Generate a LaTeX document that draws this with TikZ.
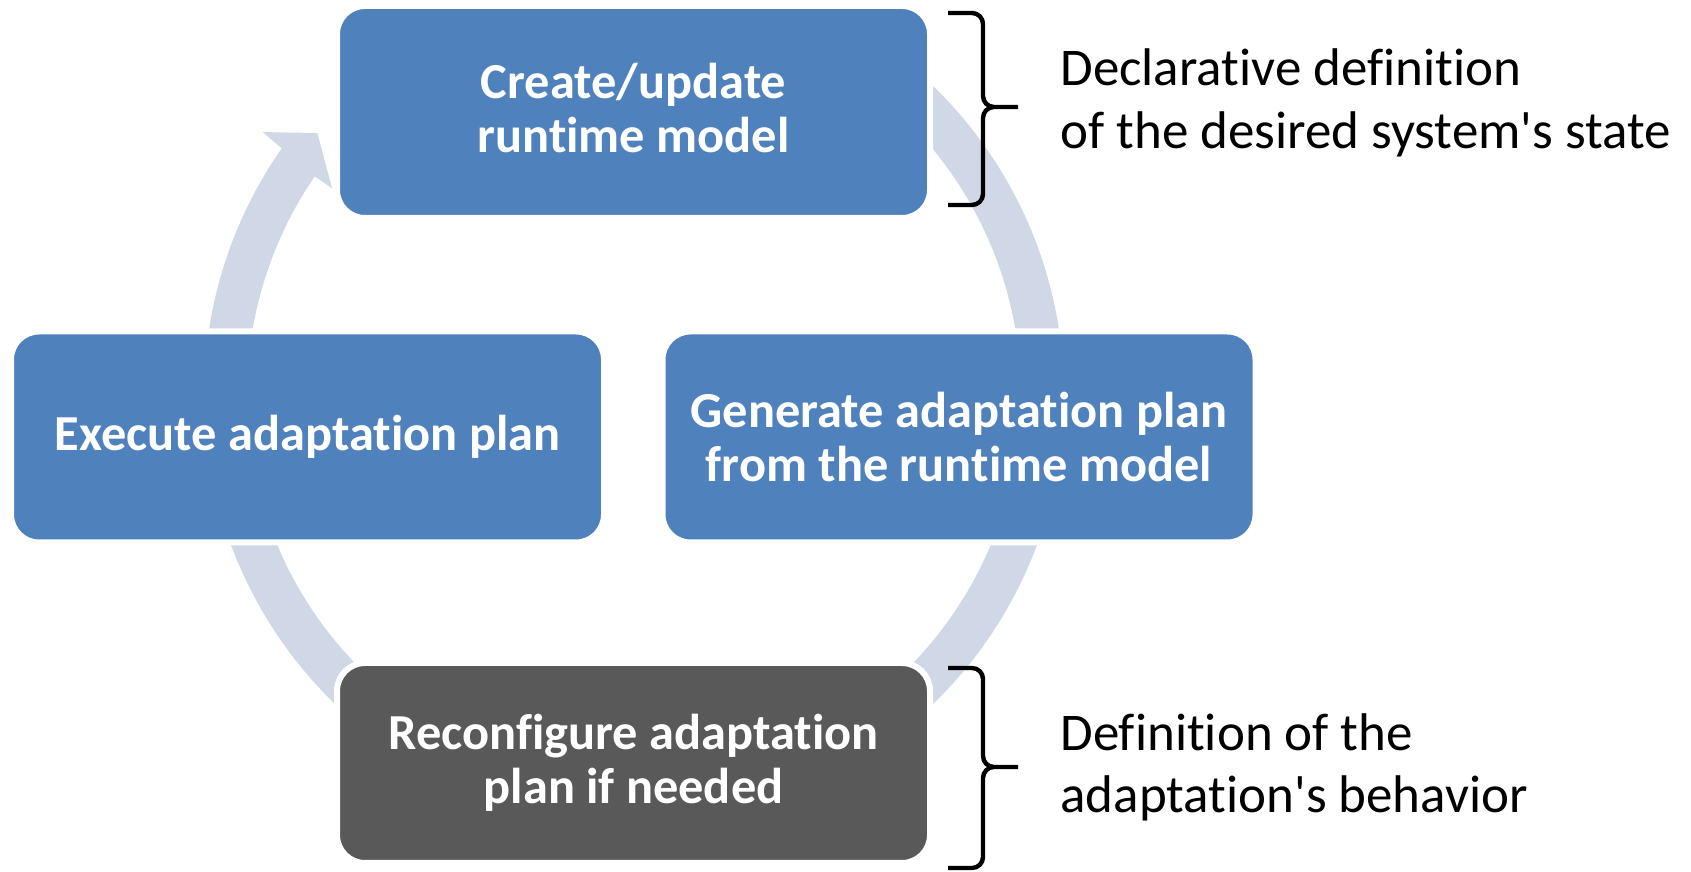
\documentclass[tikz,border=0pt]{standalone}
\usepackage{fontspec}
\setmainfont{Carlito}[Ligatures={TeXOff,NoCommon}]
\definecolor{boxblue}{HTML}{4F81BD}
\definecolor{ringc}{HTML}{D0D8E8}
\definecolor{boxgray}{HTML}{595959}
\begin{document}
\begin{tikzpicture}[x=0.5pt,y=0.5pt,
  box/.style={rectangle, rounded corners=14pt, draw=white, line width=3pt,
    fill=boxblue, text=white, font=\fontsize{25.2}{27}\selectfont\bfseries,
    align=center, minimum width=296.5pt, minimum height=105.5pt, inner sep=0pt},
  ringseg/.style={fill=ringc},
  bracepath/.style={draw=black, line width=2.2pt, line join=round, line cap=butt},
  lbl/.style={anchor=west, align=left, inner sep=0pt, text=black,
    font=\fontsize{26.5}{31.3}\selectfont}]
\fill[white] (0,0) rectangle (1691,872);
\useasboundingbox (0,0) rectangle (1691,872);
% cycle ring segments
\begin{scope}[shift={(634,477)}]
  \fill[ringseg] (60:430) arc[start angle=60,end angle=0,radius=430]
    -- (0:387) arc[start angle=0,end angle=60,radius=387] -- cycle;
  \fill[ringseg] (0:430) arc[start angle=0,end angle=-60,radius=430]
    -- (-60:387) arc[start angle=-60,end angle=0,radius=387] -- cycle;
  \fill[ringseg] (-120:430) arc[start angle=-120,end angle=-180,radius=430]
    -- (-180:387) arc[start angle=-180,end angle=-120,radius=387] -- cycle;
  \fill[ringseg] (180:430) arc[start angle=180,end angle=145,radius=430]
    -- (144.7:455) -- (140.4:411) -- (145.6:366) -- (145.6:387)
    arc[start angle=145.6,end angle=180,radius=387] -- cycle;
\end{scope}
% boxes
\node[box, minimum height=106pt] (create) at (633.5,760) {Create/update\\runtime model\rule{0pt}{0pt}\vspace*{4pt}};
\node[box] (execute) at (307.5,435) {Execute adaptation plan};
\node[box] (generate) at (959,435) {Generate adaptation plan\\from the runtime model};
\node[box, fill=boxgray, minimum height=100pt] (reconf) at (633.5,109) {Reconfigure adaptation\\plan if needed};
% braces
\draw[bracepath] (948,859) -- (972,859) to[out=0,in=90] (983,848) -- (983,776)
  to[out=-90,in=180] (994,765) -- (1018,765)
  (994,765) to[out=180,in=90] (983,754) -- (983,678) to[out=-90,in=0] (972,667) -- (948,667);
\draw[bracepath] (948,204) -- (972,204) to[out=0,in=90] (983,193) -- (983,116)
  to[out=-90,in=180] (994,105) -- (1018,105)
  (994,105) to[out=180,in=90] (983,94) -- (983,15) to[out=-90,in=0] (972,4) -- (948,4);
% labels
\node[lbl] (declab) at (1060,769) {Declarative definition\\of the desired system's state};
\node[lbl] (deflab) at (1060,104.5) {Definition of the\\adaptation's behavior};
\end{tikzpicture}
\end{document}
